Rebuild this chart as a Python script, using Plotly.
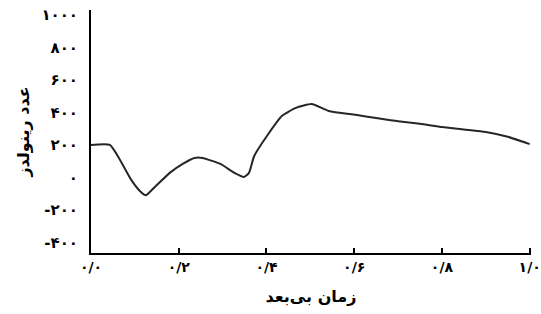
import plotly.graph_objects as go

time = [0.0, 0.043, 0.061, 0.091, 0.112, 0.125, 0.145, 0.181, 0.21, 0.236, 0.254, 0.295, 0.327, 0.349,
        0.36, 0.372, 0.401, 0.435, 0.467, 0.503, 0.542, 0.603, 0.65, 0.70, 0.75, 0.80, 0.85, 0.90, 0.95, 1.0]
reynolds = [200, 200, 132, -12, -85, -110, -60, 31, 85, 120, 120, 83, 28, 3,
            28, 132, 255, 378, 428, 452, 409, 385, 365, 345, 330, 310, 295, 280, 250, 205]

x_tick_vals = [0.0, 0.2, 0.4, 0.6, 0.8, 1.0]
x_tick_text = ["۰/۰", "۰/۲", "۰/۴", "۰/۶", "۰/۸", "۱/۰"]
y_tick_vals = [-400, -200, 0, 200, 400, 600, 800, 1000]
y_tick_text = ["-۴۰۰", "-۲۰۰", "۰", "۲۰۰", "۴۰۰", "۶۰۰", "۸۰۰", "۱۰۰۰"]

fig = go.Figure(go.Scatter(x=time, y=reynolds, mode="lines",
                           line=dict(color="#262626", width=2, shape="spline", smoothing=0.5)))

fig.update_layout(
    width=541, height=314,
    margin=dict(l=91, r=10, t=10, b=61),
    paper_bgcolor="white", plot_bgcolor="white",
    showlegend=False,
    font=dict(family="DejaVu Sans", color="black"),
    xaxis=dict(range=[0, 1.003], tickvals=x_tick_vals, ticktext=["<b>%s</b>" % t for t in x_tick_text],
               automargin=False, ticklabeloverflow="allow",
               showgrid=False, zeroline=False, showline=True, linecolor="black", linewidth=2,
               ticks="inside", ticklen=5, tickwidth=1.5, tickcolor="black",
               tickfont=dict(size=14, family="DejaVu Sans"),
               title=dict(text="<b>زمان بی‌بعد</b>", font=dict(size=16), standoff=17)),
    yaxis=dict(range=[-465, 1030], tickvals=y_tick_vals, ticktext=["<b>%s</b>" % t for t in y_tick_text],
               automargin=False, ticklabeloverflow="allow",
               showgrid=False, zeroline=False, showline=True, linecolor="black", linewidth=2,
               ticks="", ticklabelstandoff=8, tickfont=dict(size=15, family="DejaVu Sans"),
               title=dict(text="<b>عدد رینولدز</b>", font=dict(size=16), standoff=8)),
)

fig.write_html("out.html", config={"displayModeBar": False},
               post_script="document.body.style.margin='0';document.body.style.overflow='hidden';")
